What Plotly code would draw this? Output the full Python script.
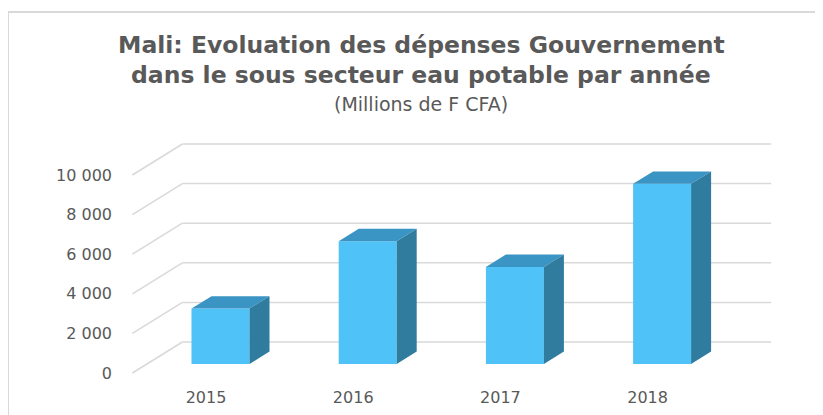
import plotly.graph_objects as go

# ---- data ----
years = ["2015", "2016", "2017", "2018"]
values = [2800, 6200, 4900, 9100]
y_ticks = [0, 2000, 4000, 6000, 8000, 10000]
y_tick_labels = ["0", "2 000", "4 000", "6 000", "8 000", "10 000"]

title_line1 = "<b>Mali: Evoluation des dépenses Gouvernement</b>"
title_line2 = "<b>dans le sous secteur eau potable par année</b>"
subtitle_text = "(Millions de F CFA)"

# ---- geometry (style), page pixel coordinates ----
OFF = 8                      # default body margin of the html page
PAGE_W, PAGE_H = 823, 415
W, H = PAGE_W - OFF, PAGE_H - OFF
plot_l, plot_r, plot_t, plot_b = 125, 790, 130, 383   # page px
px_per_cat = 147.2
cat0_px = 206.0
zero_px, ten_k_px = 373.0, 175.0
units_per_px = 10000.0 / (zero_px - ten_k_px)

x_range = [(plot_l - cat0_px) / px_per_cat, (plot_r - cat0_px) / px_per_cat]
y_range = [-(plot_b - zero_px) * units_per_px, (zero_px - plot_t) * units_per_px]

depth_dx = 50.0 / px_per_cat
depth_dy = 31.0 * units_per_px
d_front, d_back = 0.29, 0.69
bar_w = 58.0 / px_per_cat

front_col = "#4FC3F7"
top_col = "#3A95C4"
side_col = "#2F7C9F"
grid_col = "#D9D9D9"
text_col = "#595959"
FONT = "DejaVu Sans, sans-serif"

fig = go.Figure()

shapes = []
# back wall gridlines and left wall diagonals (below the bars)
x_first, x_last = -0.5, len(years) - 0.5
for v in y_ticks:
    shapes.append(dict(type="line", xref="x", yref="y", layer="below",
                       x0=x_first + depth_dx, x1=x_last + depth_dx,
                       y0=v + depth_dy, y1=v + depth_dy,
                       line=dict(color=grid_col, width=1.5)))
    shapes.append(dict(type="line", xref="x", yref="y", layer="below",
                       x0=x_first, x1=x_first + depth_dx,
                       y0=v, y1=v + depth_dy,
                       line=dict(color=grid_col, width=1.5)))

# front faces
off_x_f = d_front * depth_dx
off_y_f = d_front * depth_dy
fig.add_trace(go.Bar(x=[i + off_x_f for i in range(len(years))], y=values,
                     base=[off_y_f] * len(years), width=bar_w,
                     marker=dict(color=front_col, line=dict(width=0)),
                     hovertext=years, showlegend=False))

# top and side faces
ddx = (d_back - d_front) * depth_dx
ddy = (d_back - d_front) * depth_dy
tx, ty, sx, sy = [], [], [], []
for i, v in enumerate(values):
    xl = i + off_x_f - bar_w / 2
    xr = i + off_x_f + bar_w / 2
    b = off_y_f
    t = off_y_f + v
    tx += [xl, xr, xr + ddx, xl + ddx, xl, None]
    ty += [t, t, t + ddy, t + ddy, t, None]
    sx += [xr, xr + ddx, xr + ddx, xr, xr, None]
    sy += [b, b + ddy, t + ddy, t, b, None]
fig.add_trace(go.Scatter(x=tx, y=ty, mode="lines", fill="toself", fillcolor=top_col,
                         line=dict(width=0, color=top_col), hoverinfo="skip", showlegend=False))
fig.add_trace(go.Scatter(x=sx, y=sy, mode="lines", fill="toself", fillcolor=side_col,
                         line=dict(width=0, color=side_col), hoverinfo="skip", showlegend=False))

pw = plot_r - plot_l
ph = plot_b - plot_t


def px_x(p):
    return (p - plot_l) / pw


def px_y(p):
    return (plot_b - p) / ph


shapes += [
    dict(type="line", xref="paper", yref="paper",
         x0=px_x(8), x1=px_x(PAGE_W + 5), y0=px_y(12), y1=px_y(12),
         line=dict(color="#D9D9D9", width=2)),
    dict(type="line", xref="paper", yref="paper",
         x0=px_x(8), x1=px_x(8), y0=px_y(12), y1=px_y(PAGE_H + 5),
         line=dict(color="#D9D9D9", width=2)),
]

fig.update_layout(
    width=W, height=H,
    margin=dict(l=plot_l - OFF, r=W - (plot_r - OFF), t=plot_t - OFF, b=H - (plot_b - OFF),
                autoexpand=False),
    paper_bgcolor="white", plot_bgcolor="white",
    font=dict(family=FONT, color=text_col),
    xaxis=dict(range=x_range, tickvals=list(range(len(years))), ticktext=years,
               showgrid=False, zeroline=False, showline=False, ticks="",
               ticklabelstandoff=3,
               tickfont=dict(size=16, color=text_col), fixedrange=True),
    yaxis=dict(range=y_range, tickvals=y_ticks, ticktext=y_tick_labels,
               showgrid=False, zeroline=False, showline=False, ticks="",
               ticklabelstandoff=12,
               tickfont=dict(size=16, color=text_col), fixedrange=True),
    annotations=[
        dict(text=title_line1, xref="paper", yref="paper", x=px_x(421), y=px_y(45),
             xanchor="center", yanchor="middle", showarrow=False,
             font=dict(size=23.5, color=text_col, family=FONT)),
        dict(text=title_line2, xref="paper", yref="paper", x=px_x(421), y=px_y(75),
             xanchor="center", yanchor="middle", showarrow=False,
             font=dict(size=23.5, color=text_col, family=FONT)),
        dict(text=subtitle_text, xref="paper", yref="paper", x=px_x(421), y=px_y(104),
             xanchor="center", yanchor="middle", showarrow=False,
             font=dict(size=19, color=text_col, family=FONT)),
    ],
    shapes=shapes,
)

fig.write_html("out.html")
